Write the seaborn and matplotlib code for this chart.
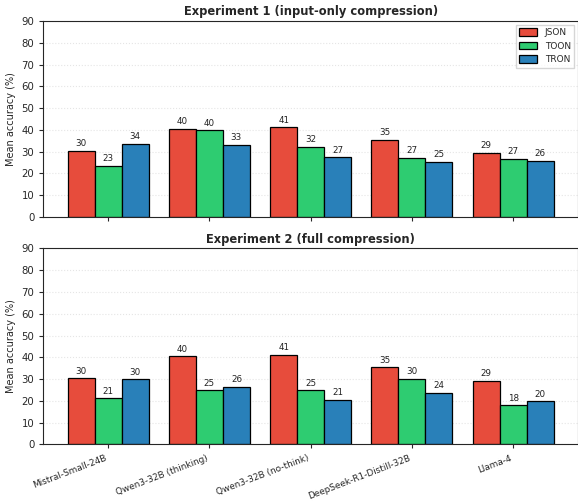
import pandas as pd
import seaborn as sns
import matplotlib.pyplot as plt

# dados
modelos = ["Mistral-Small-24B", "Qwen3-32B (thinking)", "Qwen3-32B (no-think)",
           "DeepSeek-R1-Distill-32B", "Llama-4"]
formatos = ["JSON", "TOON", "TRON"]
cores = ["#e74c3c", "#2ecc71", "#2980b9"]

exp1_json = [30.3, 40.4, 41.2, 35.4, 29.4]
exp1_toon = [23.4, 39.8, 32.1, 27.3, 26.6]
exp1_tron = [33.7, 33.1, 27.4, 25.4, 25.7]

exp2_json = [30.3, 40.4, 41.0, 35.4, 29.2]
exp2_toon = [21.1, 24.8, 24.8, 30.0, 17.9]
exp2_tron = [29.8, 26.3, 20.6, 23.6, 19.7]

titulos = ["Experiment 1 (input-only compression)", "Experiment 2 (full compression)"]


def monta_tabela(json_vals, toon_vals, tron_vals):
    linhas = []
    for fmt, vals in zip(formatos, [json_vals, toon_vals, tron_vals]):
        for m, v in zip(modelos, vals):
            linhas.append({"model": m, "format": fmt, "acc": v})
    return pd.DataFrame(linhas)


tabelas = [monta_tabela(exp1_json, exp1_toon, exp1_tron),
           monta_tabela(exp2_json, exp2_toon, exp2_tron)]

sns.set_style("ticks")
plt.rcParams["font.family"] = ["DejaVu Sans"]

fig, axes = plt.subplots(2, 1, figsize=(5.78, 5.01), dpi=100, sharex=True)
fig.subplots_adjust(left=0.075, right=1.0, top=0.958, bottom=0.113, hspace=0.16)

for i, ax in enumerate(axes):
    sns.barplot(data=tabelas[i], x="model", y="acc", hue="format", hue_order=formatos,
                palette=cores, edgecolor="black", linewidth=0.9, width=0.8,
                saturation=1, ax=ax)
    for cont in ax.containers:
        ax.bar_label(cont, fmt="%.0f", padding=2, fontsize=6.3, color="#222222")
    ax.set_ylim(0, 90)
    ax.set_yticks(range(0, 91, 10))
    ax.set_xlim(-0.64, 4.64)
    ax.set_ylabel("Mean accuracy (%)", fontsize=7)
    ax.set_xlabel("")
    ax.set_title(titulos[i], fontsize=8.3, fontweight="bold", pad=4)
    ax.grid(axis="y", linestyle=":", alpha=0.5)
    ax.set_axisbelow(True)
    ax.tick_params(labelsize=7.3, length=3)
    if i == 0:
        ax.legend(loc="upper right", fontsize=6.5, frameon=True, fancybox=False,
                  edgecolor="#cccccc", handlelength=2.0, handleheight=0.9,
                  borderaxespad=0.4)
    else:
        ax.get_legend().remove()

plt.setp(axes[1].get_xticklabels(), rotation=21, ha="right", fontsize=6.4)

plt.savefig("out.png", dpi=100)
